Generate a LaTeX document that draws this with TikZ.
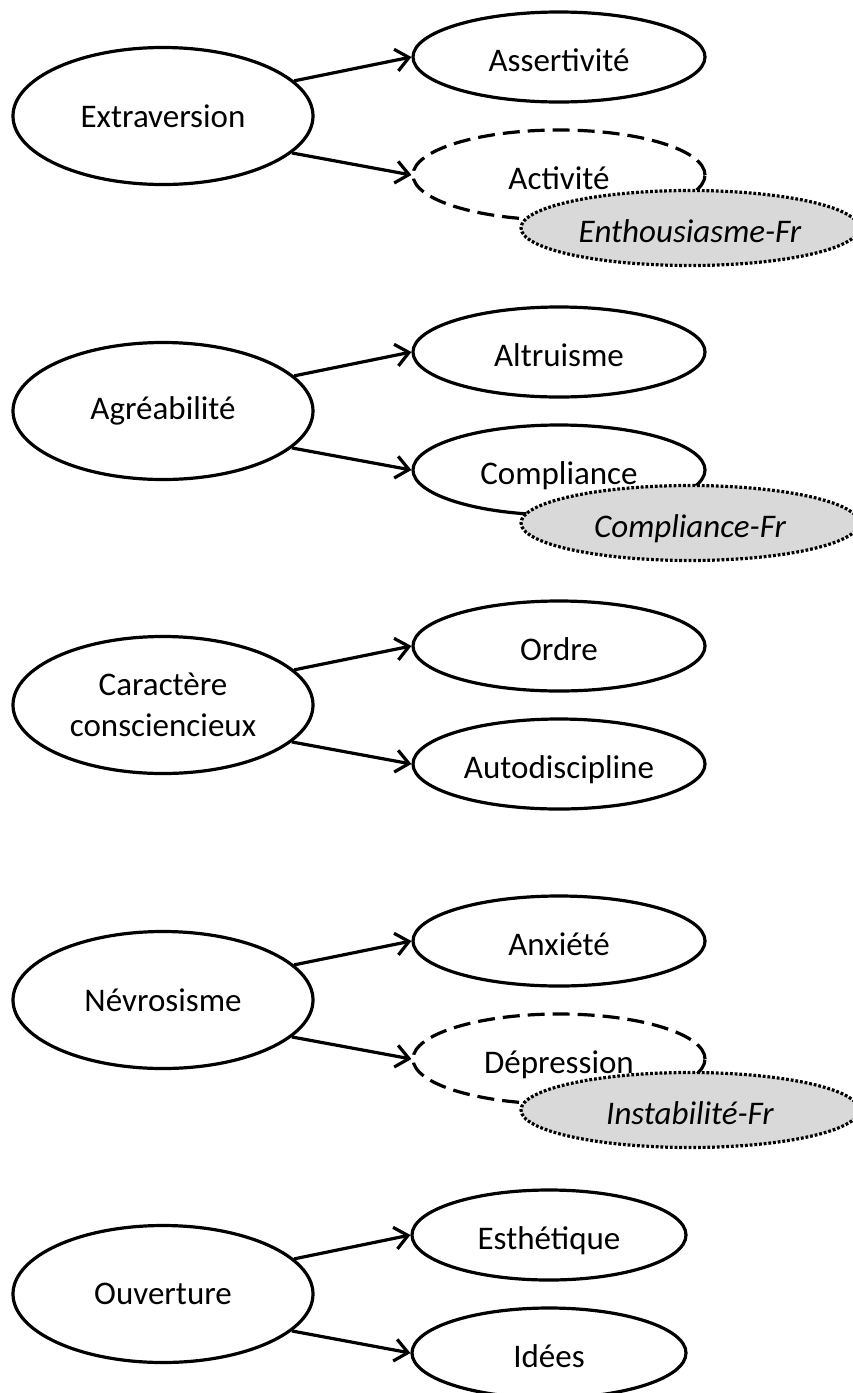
\documentclass[tikz,border=0pt]{standalone}
\usepackage{fontspec}
\setmainfont{Carlito}
\usetikzlibrary{arrows.meta,shapes.geometric}
\definecolor{frgrey}{RGB}{217,217,217}

\begin{document}
\begin{tikzpicture}[x=1pt, y=-1pt,
		font=\fontsize{33}{41}\selectfont,
		trait/.style={ellipse, draw, line width=3.2pt, inner sep=0pt, minimum width=300pt, minimum height=137pt, align=center},
		facet/.style={ellipse, draw, line width=3.2pt, inner sep=0pt, minimum width=292pt, minimum height=90pt, text height=29pt, text depth=0pt},
		facetdash/.style={facet, dash pattern=on 17pt off 8pt},
		frfacet/.style={ellipse, draw, fill=frgrey, line width=3.2pt, dash pattern=on 2.8pt off 1.9pt, inner sep=0pt, minimum width=338pt, minimum height=75pt, text height=29pt, text depth=0pt, font=\fontsize{33}{41}\selectfont\itshape},
		link/.style={line width=3.2pt, -{Straight Barb[length=13pt,width=22pt]}}]
			%%%%% START %%%%%
			
			\useasboundingbox (0, 0) rectangle (852, 1393);
			
			\node[trait] (extra) at (163, 116) {Extraversion};
			\node[facet] (assert) at (559, 57) {Assertivité};
			\node[facetdash] (activ) at (559, 175) {Activité};
			\node[frfacet] (enthou) at (690, 228) {Enthousiasme-Fr};
			\draw[link] (extra.15) -- (assert.west);
			\draw[link] (extra.-16) -- (activ.west);
			
			\node[trait] (agreab) at (163, 411) {Agréabilité};
			\node[facet] (altru) at (559, 352) {Altruisme};
			\node[facet] (compl) at (559, 470) {Compliance};
			\node[frfacet] (complfr) at (690, 523) {Compliance-Fr};
			\draw[link] (agreab.15) -- (altru.west);
			\draw[link] (agreab.-16) -- (compl.west);
			
			\node[trait] (consc) at (163, 705) {Caractère\\consciencieux};
			\node[facet] (ordre) at (559, 646) {Ordre};
			\node[facet] (autod) at (559, 764) {Autodiscipline};
			\draw[link] (consc.15) -- (ordre.west);
			\draw[link] (consc.-16) -- (autod.west);
			
			\node[trait] (nevro) at (163, 1000) {Névrosisme};
			\node[facet] (anxie) at (559, 941) {Anxiété};
			\node[facetdash] (depre) at (559, 1059) {Dépression};
			\node[frfacet] (instab) at (690, 1110) {Instabilité-Fr};
			\draw[link] (nevro.15) -- (anxie.west);
			\draw[link] (nevro.-16) -- (depre.west);
			
			\node[trait] (ouvert) at (163, 1294) {Ouverture};
			\node[facet, minimum width=274pt] (esthe) at (549, 1235) {Esthétique};
			\node[facet, minimum width=274pt] (idees) at (549, 1353) {Idées};
			\draw[link] (ouvert.15) -- (esthe.west);
			\draw[link] (ouvert.-16) -- (idees.west);
			
			%%%%% END %%%%%
\end{tikzpicture}
\end{document}
